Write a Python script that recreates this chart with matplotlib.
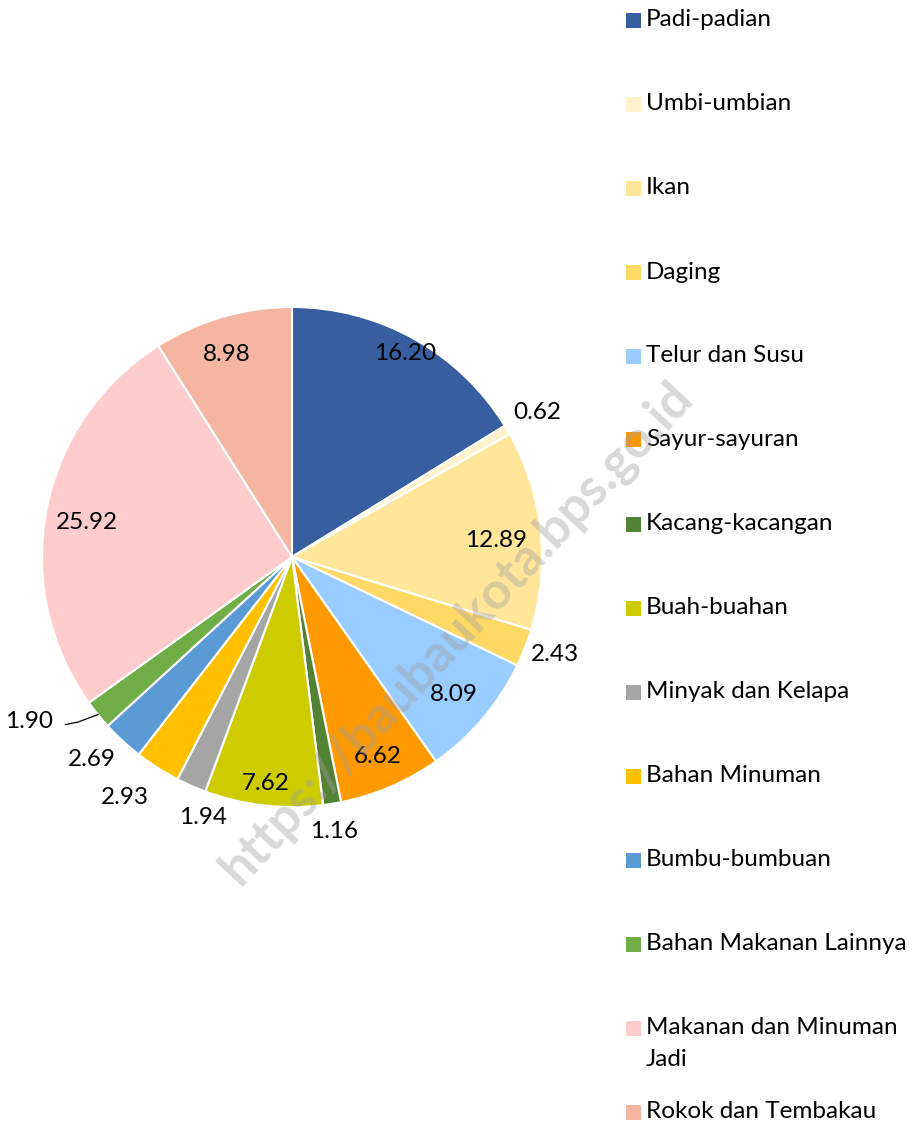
import numpy as np
import matplotlib.pyplot as plt
from matplotlib.patches import Rectangle

plt.rcParams['font.family'] = ['Lato', 'DejaVu Sans']

categories = ['Padi-padian', 'Umbi-umbian', 'Ikan', 'Daging', 'Telur dan Susu',
              'Sayur-sayuran', 'Kacang-kacangan', 'Buah-buahan', 'Minyak dan Kelapa',
              'Bahan Minuman', 'Bumbu-bumbuan', 'Bahan Makanan Lainnya',
              'Makanan dan Minuman\nJadi', 'Rokok dan Tembakau']
values = [16.20, 0.62, 12.89, 2.43, 8.09, 6.62, 1.16, 7.62, 1.94, 2.93, 2.69, 1.90, 25.92, 8.98]
colors = ['#375ea1', '#fff2cc', '#ffe699', '#ffd966', '#99ccff', '#ff9900', '#548235',
          '#cccc00', '#a5a5a5', '#ffc000', '#5b9bd5', '#70ad47', '#ffcccc', '#f4b6a3']

# label placement (radius in pie units, angle tweak in degrees)
label_r = [0.93, 1.14, 0.82, 1.12, 0.85, 0.87, 1.11, 0.91, 1.10, 1.17, 1.14, 1.24, 0.83, 0.85]
label_dang = [0, 0, -1.5, 1, 0, 0, -0.5, 0, 4.8, -2.3, -2, -7, 1.5, 1.8]

W, H = 914, 1126
fig = plt.figure(figsize=(W / 100, H / 100), dpi=100)

cx, cy, R = 292, 557, 250
ax = fig.add_axes([(cx - R) / W, (H - cy - R) / H, 2 * R / W, 2 * R / H])
wedges, _ = ax.pie(values, colors=colors, startangle=90, counterclock=False,
                   radius=1.0, wedgeprops=dict(edgecolor='white', linewidth=1.5))
ax.set_xlim(-1, 1)
ax.set_ylim(-1, 1)
ax.set_aspect('equal')
ax.axis('off')

fs = 17.5
for w, v, r, da in zip(wedges, values, label_r, label_dang):
    ang = np.deg2rad((w.theta1 + w.theta2) / 2 + da)
    ax.text(r * np.cos(ang), r * np.sin(ang), '%.2f' % v, ha='center', va='center',
            fontsize=fs, color='black', clip_on=False)

# leader line for Bahan Makanan Lainnya
w = wedges[11]
ang = np.deg2rad((w.theta1 + w.theta2) / 2)
ex, ey = np.cos(ang), np.sin(ang)
ax.plot([ex, ex - 0.08, ex - 0.13], [ey, ey - 0.03, ey - 0.04], color='black',
        linewidth=0.9, clip_on=False)

# legend drawn by hand
lx, ly0, step = 626, 20, 84
for i, (cat, col) in enumerate(zip(categories, colors)):
    y = ly0 + i * step
    fig.add_artist(Rectangle((lx / W, 1 - (y + 7.5) / H), 15 / W, 15 / H,
                             transform=fig.transFigure, facecolor=col, edgecolor='none'))
    lines = cat.split('\n')
    for j, line in enumerate(lines):
        fig.text((lx + 20) / W, 1 - (y + 32 * j) / H, line, ha='left', va='center',
                 fontsize=fs)

# watermark
fig.text(457 / W, 1 - 633 / H, 'https://baubaukota.bps.go.id', ha='center', va='center',
         rotation=47, fontsize=37, fontweight='bold', color='#a0a0a0', alpha=0.4,
         zorder=10)

fig.savefig('out.png', dpi=100)
